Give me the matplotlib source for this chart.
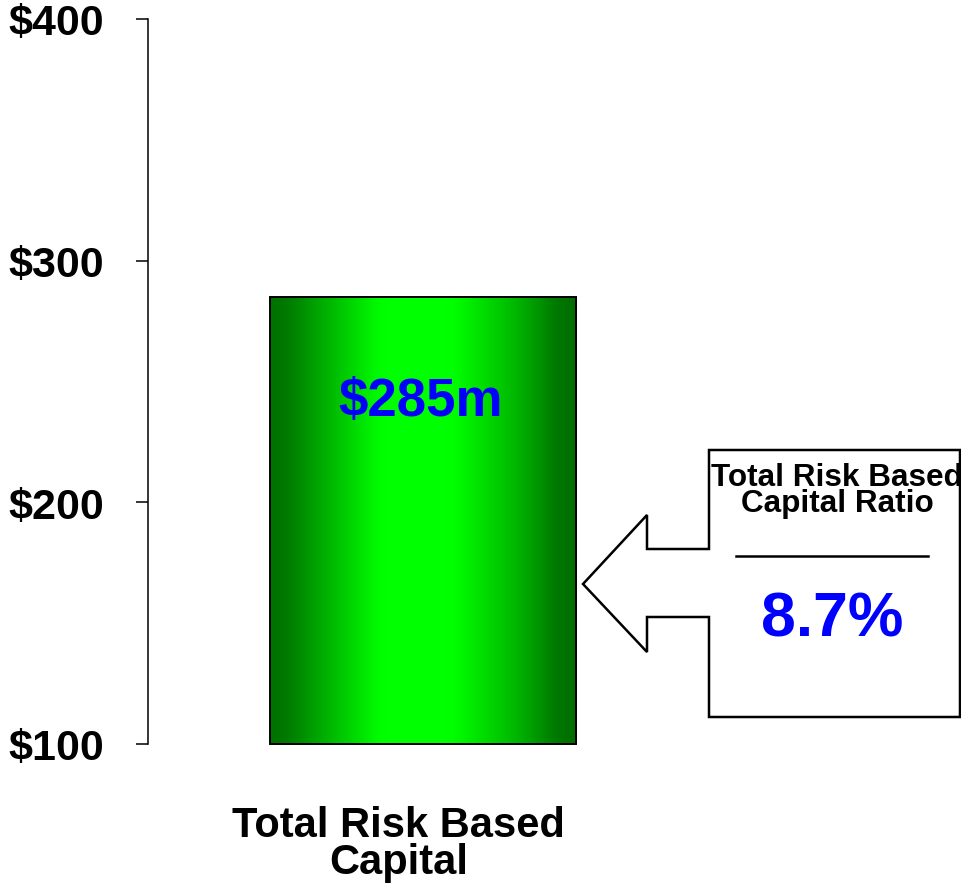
import numpy as np
import matplotlib.pyplot as plt
from matplotlib.patches import Polygon
from matplotlib.transforms import ScaledTranslation

plt.rcParams['font.family'] = ['Liberation Sans', 'DejaVu Sans']
plt.rcParams['font.weight'] = 'bold'

categories = ["Total Risk Based\nCapital"]
values = [285]
y_ticks = [100, 200, 300, 400]
y_labels = ["$100", "$200", "$300", "$400"]
ratio_title = "Total Risk Based\nCapital Ratio"
ratio_value = 8.7

W, H = 961, 887
fig = plt.figure(figsize=(W / 100, H / 100), dpi=100)
ax = fig.add_axes([148 / W, 142 / H, 550 / W, 725 / H])

base = y_ticks[0]
bar_w = 0.558
bars = ax.bar(range(len(values)), [v - base for v in values], width=bar_w,
              bottom=base, color='none', edgecolor='black', linewidth=1.4,
              zorder=3, clip_on=False)

# horizontal green shading: dark plateau at the edges, bright in the middle
t = np.linspace(0, 1, 400)
knots = [0.0, 0.05, 0.22, 0.36, 0.60, 0.80, 0.94, 1.0]
level = [0.44, 0.47, 0.76, 1.0, 1.0, 0.72, 0.46, 0.43]
g = np.interp(t, knots, level)
g = np.convolve(np.pad(g, 10, mode='edge'), np.ones(21) / 21, mode='valid')
rgb = np.zeros((1, t.size, 3))
rgb[0, :, 1] = g
for i, (b, v) in enumerate(zip(bars, values)):
    x0 = b.get_x()
    im = ax.imshow(rgb, extent=[x0, x0 + bar_w, base, v], aspect='auto',
                   interpolation='bilinear', zorder=2)
    im.set_clip_path(b)
    ax.annotate(f"${v}m", xy=(i, v), xytext=(-2, -75), textcoords='offset points',
                ha='center', va='center', color='#0000ff', fontsize=38,
                fontweight='bold', zorder=4)

ax.set_xlim(-0.5, 0.5)
ax.set_ylim(100, 400)

for s in ['top', 'right', 'bottom']:
    ax.spines[s].set_visible(False)
ax.spines['left'].set_linewidth(1.1)
ax.set_yticks(y_ticks, labels=y_labels, fontsize=31, fontweight='bold')
ax.tick_params(axis='y', length=8.6, width=1.1, pad=23)
ax.set_xticks(range(len(categories)), labels=categories, fontsize=30,
              fontweight='bold', linespacing=0.9)
ax.tick_params(axis='x', length=0, pad=44)
for lab in ax.get_xticklabels():
    lab.set_transform(lab.get_transform() + ScaledTranslation(-0.245, 0, fig.dpi_scale_trans))

# callout: box with an arrow pointing back at the bar (pixel coordinates)
ov = fig.add_axes([0, 0, 1, 1])
ov.set_xlim(0, W)
ov.set_ylim(H, 0)
ov.axis('off')
shape = [(709, 451), (960, 451), (960, 718), (709, 718), (709, 618),
         (647, 618), (647, 653), (583, 585), (647, 516), (647, 550), (709, 550)]
ov.add_patch(Polygon(shape, closed=True, facecolor='white', edgecolor='black',
                     linewidth=1.8, joinstyle='miter'))
ov.text(837, 491, ratio_title, ha='center', va='center', fontsize=22.7,
        fontweight='bold', linespacing=0.85)
ov.plot([736, 928], [557, 557], color='black', linewidth=1.8)
ov.text(832, 620, f"{ratio_value}%", ha='center', va='center', fontsize=45,
        fontweight='bold', color='#0000ff')

fig.savefig('out.png', dpi=100)
